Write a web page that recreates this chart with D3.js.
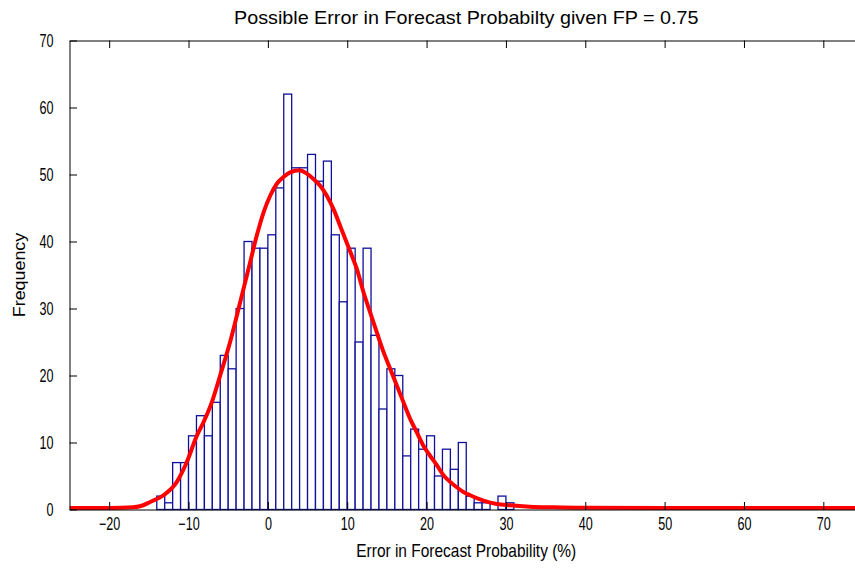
<!DOCTYPE html>
<html><head><meta charset="utf-8">
<script src="https://cdn.jsdelivr.net/npm/d3@7/dist/d3.min.js"></script>
<style>
body{margin:0;background:#fff;}
svg text{font-family:"Liberation Sans",Arial,Helvetica,sans-serif;fill:#000;}
</style>
</head><body>
<svg id="chart" width="855" height="569"></svg>
<script>
// Histogram bins (left edge of each 1-unit bin) and frequencies
const binLeft = [-14,-13,-12,-11,-10,-9,-8,-7,-6,-5,-4,-3,-2,-1,0,1,2,3,4,5,6,7,8,9,10,11,12,13,14,15,16,17,18,19,20,21,22,23,24,25,26,27,28,29,30];
const counts  = [2,1,7,7,11,14,11,16,23,21,30,40,39,39,41,48,62,51,51,53,49,52,41,31,39,25,39,26,15,21,20,8,12,9,11,5,9,6,10,2,1,1,0,2,1];
const binWidth = 1;

// Fitted curve
const curveX = [-25,-20,-17,-16,-14.83,-13.15,-11.47,-10.2,-8.95,-8.11,-7.06,-6.01,-4.75,-3.49,-2.23,-1.39,-0.55,0.29,1.13,1.97,2.81,3.98,4.91,5.75,6.59,7.43,8.27,9.11,10.4,11.21,12.05,12.89,13.73,14.57,15.41,16.25,17.08,17.93,18.77,19.6,20.44,21.29,22.13,22.97,23.8,24.64,25.49,27.17,28.85,30.5,33,36,40,50,75];
const curveY = [0,0.01,0.1,0.3,0.9,1.9,3.9,6.9,10.8,12.8,15.8,19.8,24.8,30.7,36.7,40.7,44.1,46.6,48.4,49.4,50.1,50.4,49.9,49.1,48.1,46.6,44.6,42.1,38.2,35.7,32.2,29.2,26.2,23.3,20.8,18.3,15.8,13.3,11.3,9.3,7.8,6.4,4.9,3.9,3.1,2.4,1.9,1.1,0.6,0.4,0.2,0.1,0.03,0,0];

const xTicks = [-20,-10,0,10,20,30,40,50,60,70];
const yTicks = [0,10,20,30,40,50,60,70];
const xDomain = [-25,75];
const yDomain = [0,70];
const titleText = "Possible Error in Forecast Probabilty given FP = 0.75";
const xLabelText = "Error in Forecast Probability (%)";
const yLabelText = "Frequency";

const svg = d3.select("#chart");
const L = 69.5, R = 863, T = 40.5, B = 509.5;
const SX = 0.7; // narrow glyph look for tick labels
const x = d3.scaleLinear().domain(xDomain).range([L, R]);
const y = d3.scaleLinear().domain(yDomain).range([B, T]);

svg.append("rect").attr("width",855).attr("height",569).attr("fill","#fff");

svg.append("clipPath").attr("id","plotclip")
  .append("rect").attr("x",L).attr("y",T-3).attr("width",R-L).attr("height",B-T+6);

const plot = svg.append("g").attr("clip-path","url(#plotclip)");

// bars
const bins = binLeft.map((b,i)=>({x0:b, x1:b+binWidth, n:counts[i]})).filter(d=>d.n>0);
plot.selectAll("rect.bar").data(bins).enter().append("rect")
  .attr("class","bar")
  .attr("x", d=>x(d.x0))
  .attr("width", d=>x(d.x1)-x(d.x0))
  .attr("y", d=>y(d.n))
  .attr("height", d=>y(0)-y(d.n))
  .attr("fill","#fff")
  .attr("stroke","#10109a")
  .attr("stroke-width",1.3);

// curve
const pts = curveX.map((v,i)=>[v,curveY[i]]);
plot.append("path")
  .attr("d", d3.line().x(d=>x(d[0])).y(d=>y(d[1])-1.5).curve(d3.curveMonotoneX)(pts))
  .attr("fill","none")
  .attr("stroke","#ff0000")
  .attr("stroke-width",4)
  .attr("stroke-linejoin","round");

// axes
const axB = svg.append("g").attr("transform",`translate(0,${B})`)
  .call(d3.axisBottom(x).tickValues(xTicks).tickSizeInner(-7.5).tickSizeOuter(0).tickPadding(8).tickFormat(d3.format("d")));
const axT = svg.append("g").attr("transform",`translate(0,${T})`)
  .call(d3.axisTop(x).tickValues(xTicks).tickSizeInner(-7.5).tickSizeOuter(0).tickFormat(""));
const axL = svg.append("g").attr("transform",`translate(${L},0)`)
  .call(d3.axisLeft(y).tickValues(yTicks).tickSizeInner(-7.5).tickSizeOuter(0).tickPadding(16).tickFormat(d3.format("d")));
const axR = svg.append("g").attr("transform",`translate(${R},0)`)
  .call(d3.axisRight(y).tickValues(yTicks).tickSizeInner(-7.5).tickSizeOuter(0).tickFormat(""));

[axB,axT,axL,axR].forEach(g=>{
  g.select(".domain").attr("stroke","#000").attr("stroke-width",1);
  g.selectAll(".tick line").attr("stroke","#000").attr("stroke-width",1);
  g.selectAll(".tick text").attr("font-size",18).attr("font-family","Liberation Sans, Arial, sans-serif");
});
axB.selectAll(".tick text").attr("transform",`scale(${SX},1)`);
axL.selectAll(".tick text").attr("x",-16/SX).attr("transform",`scale(${SX},1)`);

// labels
svg.append("text").attr("transform",`translate(${(L+R)/2},24) scale(1.04,1)`).attr("text-anchor","middle")
  .attr("font-size",19).text(titleText);
svg.append("text").attr("transform",`translate(${(L+R)/2},557) scale(0.86,1)`).attr("text-anchor","middle")
  .attr("font-size",18).text(xLabelText);
svg.append("text").attr("transform",`translate(25,${(T+B)/2}) rotate(-90) scale(1.05,1)`).attr("text-anchor","middle")
  .attr("font-size",17).text(yLabelText);
</script>
</body></html>
